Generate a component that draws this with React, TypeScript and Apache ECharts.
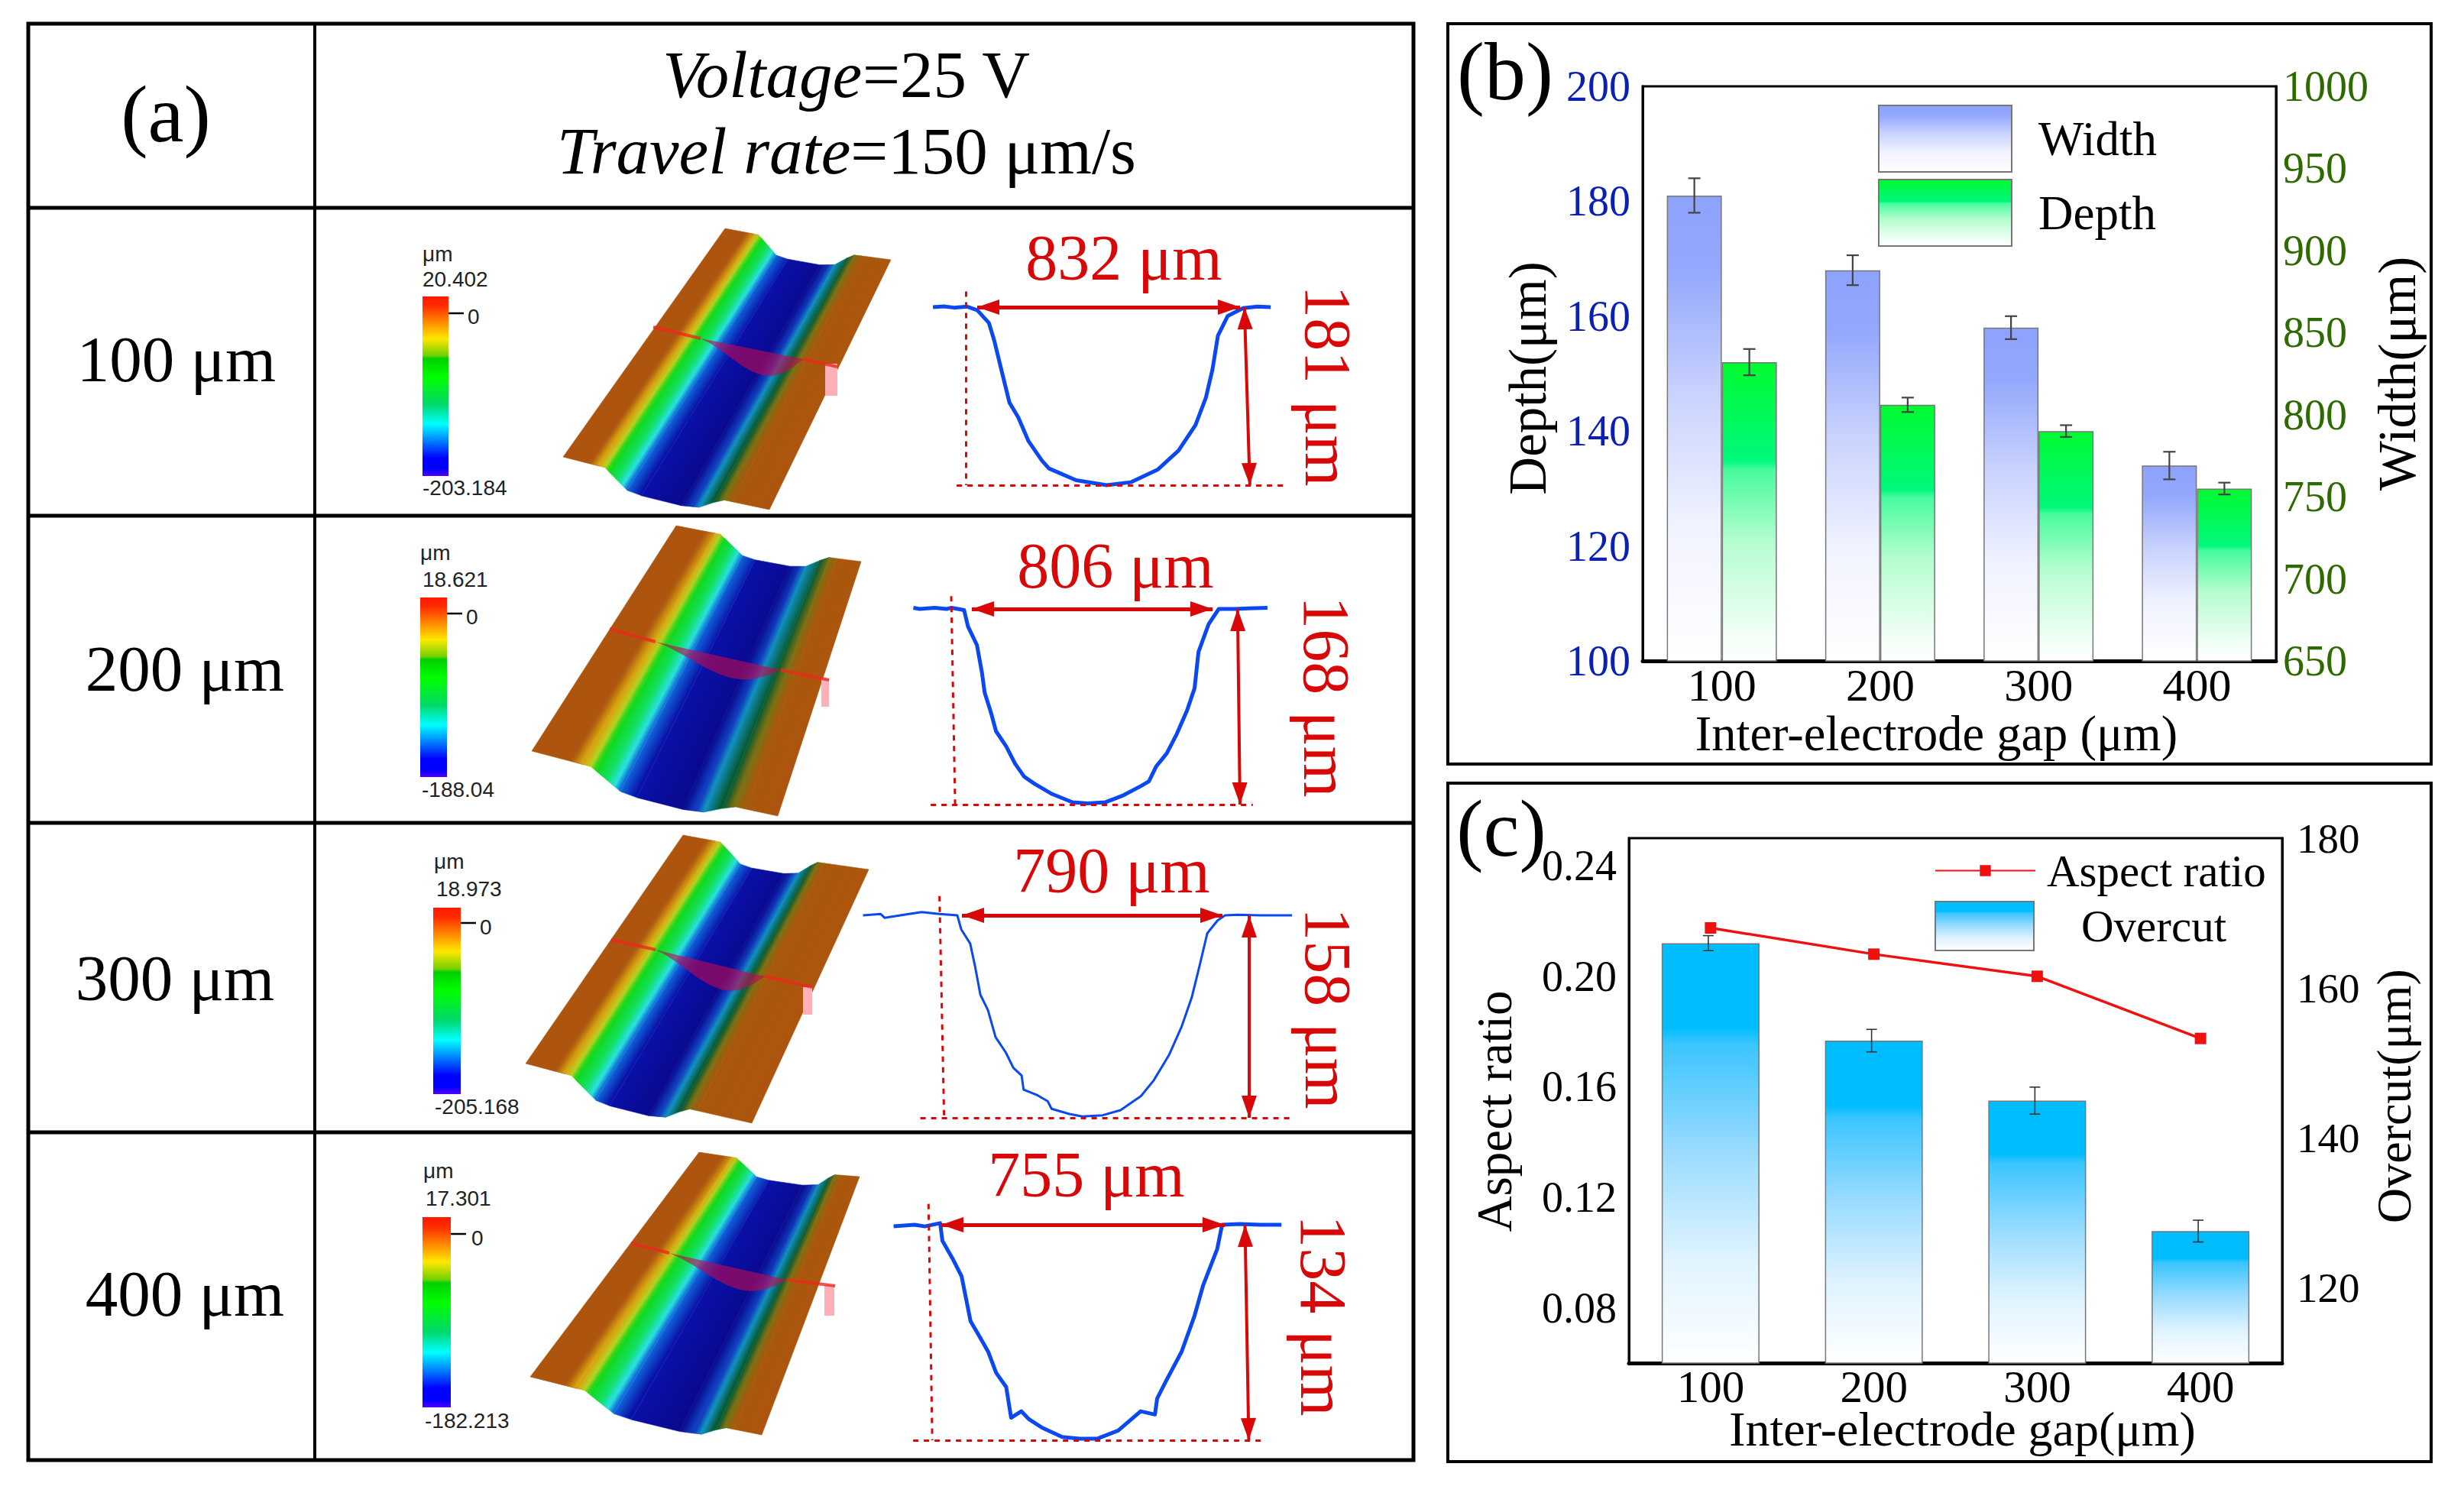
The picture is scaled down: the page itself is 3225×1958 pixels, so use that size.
import React, { useEffect, useRef } from "react";
import * as echarts from "echarts";

const SERIF = "Liberation Serif";
const SANS = "Liberation Sans";

// ---------- data ----------
const gaps = ["100", "200", "300", "400"];
const depthValues = [181, 168, 158, 134];
const depthErrors = [3, 2.6, 2, 2.4];
const widthValues = [832, 806, 790, 755];
const widthErrors = [8, 4.4, 3.6, 3.6];
const aspectRatio = [0.2175, 0.208, 0.2, 0.1775];
const overcutValues = [166, 153, 145, 127.6];
const overcutErrors = [1, 1.5, 1.8, 1.45];

const rowLabels = ["100 μm", "200 μm", "300 μm", "400 μm"];
const widthLabels = ["832 μm", "806 μm", "790 μm", "755 μm"];
const depthLabels = ["181 μm", "168 μm", "158 μm", "134 μm"];
const scaleTop = ["20.402", "18.621", "18.973", "17.301"];
const scaleBottom = ["-203.184", "-188.04", "-205.168", "-182.213"];

const profile100 = [[-140,0],[-105,0.8],[-74,-0.5],[-32,0.5],[0,-3],[37,-16],[54,-34],[76,-63],[102,-97],[130,-112],[162,-136],[205,-156],[227,-164],[313,-176],[410,-181],[486,-178],[572,-165],[637,-146],[691,-120],[724,-92],[745,-63],[762,-29],[793,-9],[842,-1],[887,0.5],[929,0]];
const profile200 = [[-196,1],[-175,0],[-124,1],[-85,0],[-68,1],[-26,-1],[-13,-15],[17,-31],[34,-55],[43,-72],[64,-89],[81,-105],[115,-118],[145,-133],[175,-144],[209,-150],[269,-159],[337,-166],[388,-167],[448,-166],[508,-160],[567,-152],[593,-148],[618,-135],[653,-124],[687,-107],[721,-87],[746,-68],[759,-37],[793,-13],[827,0],[883,0],[925,0.5],[990,1]];
const profile300 = [[-300,0],[-246,1],[-234,-2],[-161,1],[-122,2.5],[-68,1],[-14,0],[-2,-11],[25,-22],[40,-40],[56,-62],[79,-74],[102,-95],[133,-107],[156,-119],[181,-125],[187,-136],[226,-140],[260,-145],[272,-151],[326,-155],[365,-157],[427,-156],[481,-152],[543,-141],[581,-129],[628,-109],[666,-87],[697,-64],[720,-40],[744,-14],[775,-4],[798,0],[836,0.5],[906,0],[1001,0]];
const profile400 = [[-127,-1],[-71,0],[-44,-1],[-3,1],[3,-10],[30,-21],[54,-32],[78,-60],[98,-68],[125,-79],[146,-92],[173,-101],[186,-120],[213,-116],[234,-121],[267,-126],[322,-132],[369,-133],[416,-133],[471,-128],[531,-116],[569,-118],[575,-108],[599,-97],[640,-79],[674,-57],[697,-38],[735,-15],[748,0],[795,0.5],[850,0],[906,0]];
const profiles = [profile100, profile200, profile300, profile400];

// ---------- layout (pixels) ----------
const RED = "#d80808";
const profileBoxes = [
  { tipL: 1279, tipR: 1623, top: 402, bot: 635, xMin: -150, xMax: 990, ax1: 846, ax2: 863, d1: -36, d2: -36, dTop: 16, fl: -65, fr: 972, lw: 5 },
  { tipL: 1272, tipR: 1587, top: 797, bot: 1053, xMin: -200, xMax: 1000, ax1: 890, ax2: 898, d1: -69, d2: -56, dTop: 11, fl: -138, fr: 941, lw: 5 },
  { tipL: 1259, tipR: 1600, top: 1198, bot: 1463, xMin: -310, xMax: 1010, ax1: 871, ax2: 871, d1: -68, d2: -54, dTop: 15, fl: -126, fr: 1001, lw: 3 },
  { tipL: 1232, tipR: 1603, top: 1603, bot: 1885, xMin: -130, xMax: 915, ax1: 809, ax2: 819, d1: -34, d2: -24, dTop: 13, fl: -75, fr: 858, lw: 5 },
];
const widthLabelPos = [[1471, 337], [1460, 740], [1455, 1139], [1422, 1537]];
const depthLabelPos = [[1738, 505], [1736, 912], [1738, 1320], [1732, 1722]];
const rowLabelPos = [[231, 470], [242, 875], [229, 1280], [242, 1693]];
const scales = [
  { x: 553, w: 34, y0: 388, y1: 623, um: [553, 332], tp: [553, 365], zero: [612, 414], tick: 410, bt: [553, 638] },
  { x: 550, w: 35, y0: 782, y1: 1017, um: [550, 723], tp: [553, 758], zero: [610, 807], tick: 803, bt: [552, 1033] },
  { x: 567, w: 36, y0: 1188, y1: 1432, um: [568, 1127], tp: [571, 1163], zero: [628, 1213], tick: 1208, bt: [569, 1448] },
  { x: 553, w: 37, y0: 1593, y1: 1842, um: [554, 1532], tp: [557, 1568], zero: [617, 1620], tick: 1615, bt: [556, 1859] },
];
const surfaces = [
  { tl: [949, 299], tr: [1166, 340], bl: [737, 598], br: [1007, 667], a: 0.13, b: 0.31, c: 0.66, d: 0.82, dip: 28 },
  { tl: [885, 688], tr: [1127, 735], bl: [696, 983], br: [1018, 1068], a: 0.16, b: 0.36, c: 0.7, d: 0.87, dip: 28 },
  { tl: [894, 1093], tr: [1137, 1138], bl: [688, 1392], br: [984, 1470], a: 0.13, b: 0.31, c: 0.62, d: 0.76, dip: 30 },
  { tl: [915, 1508], tr: [1125, 1540], bl: [694, 1802], br: [997, 1878], a: 0.15, b: 0.36, c: 0.74, d: 0.88, dip: 26 },
];
const sections = [
  { a: [855, 428], s: [917, 443], e: [1051, 470], low: [1007, 493], z: [1096, 480], pink: [1080, 476, 16, 42] },
  { a: [798, 823], s: [858, 840], e: [1022, 877], low: [982, 893], z: [1085, 890], pink: [1075, 888, 10, 37] },
  { a: [800, 1230], s: [858, 1243], e: [1001, 1278], low: [955, 1298], z: [1063, 1292], pink: [1051, 1292, 12, 36] },
  { a: [826, 1627], s: [876, 1640], e: [1030, 1675], low: [990, 1693], z: [1093, 1683], pink: [1079, 1682, 13, 40] },
];
const BROWN = "#ad550e";

function surfaceGraphics(s: any, sec: any) {
  const { a, b, c, d } = s;
  const stops: [number, string][] = [
    [0, BROWN], [a, BROWN], [a + 0.25 * (b - a), "#d8a810"], [a + 0.4 * (b - a), "#b4d020"], [a + 0.5 * (b - a), "#12d818"],
    [a + 0.72 * (b - a), "#10e060"], [a + 0.88 * (b - a), "#28e0e0"], [b, "#1064d8"], [b + 0.2 * (c - b), "#0a10a8"],
    [b + 0.75 * (c - b), "#0a0a90"], [c - 0.03, "#1040c0"], [c, "#1090c0"], [c + 0.45 * (d - c), "#085a30"],
    [c + 0.75 * (d - c), "#807012"], [d, "#a8580c"], [1, BROWN],
  ];
  const dips = [[0, 0], [a + 0.4 * (b - a), 0], [b, s.dip * 0.8], [(b + c) / 2, s.dip], [c, s.dip * 0.73], [c + 0.7 * (d - c), s.dip * 0.1], [1, 0]];
  const dipAt = (t: number) => {
    for (let i = 1; i < dips.length; i++) {
      if (t <= dips[i][0]) {
        const p = dips[i - 1], q = dips[i];
        return p[1] + ((t - p[0]) / (q[0] - p[0])) * (q[1] - p[1]);
      }
    }
    return 0;
  };
  const mix = (p: number[], q: number[], t: number) => [p[0] + (q[0] - p[0]) * t, p[1] + (q[1] - p[1]) * t];
  const out: any[] = [];
  for (let i = 0; i + 1 < stops.length; i++) {
    const [t0, c0] = stops[i];
    const [t1, c1] = stops[i + 1];
    const a0 = mix(s.tl, s.tr, t0); a0[1] += dipAt(t0);
    const a1 = mix(s.tl, s.tr, t1); a1[1] += dipAt(t1);
    const b0 = mix(s.bl, s.br, t0); b0[1] += dipAt(t0);
    const b1 = mix(s.bl, s.br, t1); b1[1] += dipAt(t1);
    const m0 = mix(a0, b0, 0.5);
    const m1 = mix(a1, b1, 0.5);
    const ex = b0[0] - a0[0], ey = b0[1] - a0[1];
    const len = Math.hypot(ex, ey);
    const nx = -ey / len, ny = ex / len;
    const dot = (m1[0] - m0[0]) * nx + (m1[1] - m0[1]) * ny;
    const fill = new echarts.graphic.LinearGradient(m0[0], m0[1], m0[0] + nx * dot, m0[1] + ny * dot,
      [{ offset: 0, color: c0 }, { offset: 1, color: c1 }], true);
    out.push({ type: "polygon", silent: true, shape: { points: [a0, a1, b1, b0] }, style: { fill, stroke: c0, lineWidth: 0.6 } });
  }
  const pts: number[][] = [sec.s, sec.e];
  const chordAtLow = sec.s[1] + ((sec.low[0] - sec.s[0]) / (sec.e[0] - sec.s[0])) * (sec.e[1] - sec.s[1]);
  const h = sec.low[1] - chordAtLow;
  for (let k = 9; k >= 1; k--) {
    const u = k / 10;
    const m = mix(sec.s, sec.e, u);
    pts.push([m[0], m[1] + h * Math.sin(Math.PI * Math.pow(u, 1.4))]);
  }
  out.push({ type: "rect", silent: true, shape: { x: sec.pink[0], y: sec.pink[1], width: sec.pink[2], height: sec.pink[3] }, style: { fill: "#ffb0b8" } });
  out.push({ type: "polygon", silent: true, shape: { points: pts }, style: { fill: "rgba(190,10,80,0.62)" } });
  const redLine = { stroke: "rgba(235,40,30,0.8)", lineWidth: 4 };
  out.push({ type: "line", silent: true, shape: { x1: sec.a[0], y1: sec.a[1], x2: sec.s[0], y2: sec.s[1] }, style: redLine });
  out.push({ type: "line", silent: true, shape: { x1: sec.e[0], y1: sec.e[1], x2: sec.z[0], y2: sec.z[1] }, style: redLine });
  return out;
}

const T = (text: string, x: number, y: number, size: number, extra: any = {}, family = SERIF, rotation = 0) => ({
  type: "text", silent: true, x, y, rotation,
  style: { text, fontFamily: family, fontSize: size, fill: "#000", align: "center", verticalAlign: "middle", ...extra },
});
const L = (x1: number, y1: number, x2: number, y2: number, w: number) => ({
  type: "line", silent: true, shape: { x1, y1, x2, y2 }, style: { stroke: "#000", lineWidth: w },
});

const grad = (stops: [number, string][]) => new echarts.graphic.LinearGradient(0, 0, 0, 1, stops.map(([offset, color]) => ({ offset, color })));
const blueFill = () => grad([[0, "#8da2fb"], [0.15, "#93a7fc"], [0.42, "#c8d2fd"], [0.7, "#f0f2ff"], [1, "#ffffff"]]);
const greenFill = () => grad([[0, "#00fb30"], [0.33, "#00f87c"], [0.36, "#48fb9e"], [0.6, "#b5fdcf"], [0.9, "#f0fff5"], [1, "#ffffff"]]);
const cyanFill = () => grad([[0, "#00bdff"], [0.2, "#00bdff"], [0.24, "#3cc5ff"], [0.5, "#9bdcff"], [0.75, "#dff3ff"], [1, "#ffffff"]]);
const barGradient = () => grad([[0, "#ff1a00"], [0.05, "#ff2a00"], [0.15, "#ff9000"], [0.235, "#ffe800"], [0.33, "#70d000"], [0.345, "#00d000"], [0.45, "#00ff00"], [0.6, "#00d868"], [0.71, "#00ffff"], [0.9, "#0000ff"], [0.96, "#0000ff"], [1, "#5000ff"]]);

function errorSeries(name: string, xAxisIndex: number, yAxisIndex: number, vals: number[], errs: number[], dx: number, cap: number, lw: number, color: string) {
  return {
    type: "custom", name, xAxisIndex, yAxisIndex, clip: false, z: 5, silent: true,
    data: vals.map((v, i) => [i, v, errs[i]]),
    renderItem: (_: any, api: any) => {
      const c = api.value(0), v = api.value(1), e = api.value(2);
      const hi = api.coord([c, v + e]);
      const lo = api.coord([c, v - e]);
      const x = hi[0] + dx;
      const style = { stroke: color, lineWidth: lw, fill: "none" };
      return {
        type: "group",
        children: [
          { type: "line", shape: { x1: x, y1: hi[1], x2: x, y2: lo[1] }, style },
          { type: "line", shape: { x1: x - cap, y1: hi[1], x2: x + cap, y2: hi[1] }, style },
          { type: "line", shape: { x1: x - cap, y1: lo[1], x2: x + cap, y2: lo[1] }, style },
        ],
      };
    },
  };
}

function buildOption() {
  const hidden = { show: false };
  const grids: any[] = [
    { left: 2150, top: 113, width: 829, height: 752, show: true, borderColor: "#000", borderWidth: 3, backgroundColor: "transparent" },
    { left: 2132, top: 1097, width: 855, height: 687, show: true, borderColor: "#000", borderWidth: 3, backgroundColor: "transparent" },
  ];
  const xAxes: any[] = [
    { type: "category", gridIndex: 0, data: gaps, axisTick: hidden, name: "Inter-electrode gap (μm)", nameLocation: "middle", nameGap: 63,
      nameTextStyle: { fontFamily: SERIF, fontSize: 64.5, color: "#000", padding: [0, 60, 0, 0] },
      axisLine: { lineStyle: { color: "#000", width: 5 } }, axisLabel: { fontFamily: SERIF, fontSize: 60, color: "#000", margin: 2 } },
    { type: "category", gridIndex: 1, data: gaps, axisTick: hidden, name: "Inter-electrode gap(μm)", nameLocation: "middle", nameGap: 59, nameMoveOverlap: false,
      nameTextStyle: { fontFamily: SERIF, fontSize: 64, lineHeight: 54, color: "#000", padding: [0, 0, 0, 18] },
      axisLine: { lineStyle: { color: "#000", width: 5 } }, axisLabel: { fontFamily: SERIF, fontSize: 59, lineHeight: 48, color: "#000", margin: 7 } },
  ];
  const yBase = { type: "value", splitLine: hidden, axisTick: hidden, nameLocation: "middle" };
  const plain = (v: number) => String(v);
  const yAxes: any[] = [
    { ...yBase, gridIndex: 0, position: "left", min: 100, max: 200, interval: 20, name: "Depth(μm)", nameGap: 116,
      nameTextStyle: { fontFamily: SERIF, fontSize: 69, color: "#000", padding: [0, 12, 0, 0] },
      axisLine: { show: true, lineStyle: { color: "#000", width: 3 } }, axisLabel: { formatter: plain, fontFamily: SERIF, fontSize: 56, color: "#0a1fb4", margin: 16 } },
    { ...yBase, gridIndex: 0, position: "right", min: 650, max: 1000, interval: 50, name: "Width(μm)", nameGap: 94,
      nameTextStyle: { fontFamily: SERIF, fontSize: 69, color: "#000" },
      axisLine: { show: true, lineStyle: { color: "#000", width: 3 } }, axisLabel: { formatter: plain, fontFamily: SERIF, fontSize: 56, color: "#2f6a00", margin: 9 } },
    { ...yBase, gridIndex: 1, position: "left", min: 0.06, max: 0.25, name: "Aspect ratio", nameGap: 144,
      nameTextStyle: { fontFamily: SERIF, fontSize: 65, color: "#000", padding: [0, 28, 0, 0] },
      axisLine: { show: true, lineStyle: { color: "#000", width: 3 } },
      axisLabel: { customValues: [0.08, 0.12, 0.16, 0.2, 0.24], formatter: (v: number) => v.toFixed(2), fontFamily: SERIF, fontSize: 56, color: "#000", margin: 16 } },
    { ...yBase, gridIndex: 1, position: "right", min: 110, max: 180, name: "Overcut(μm)", nameGap: 114,
      nameTextStyle: { fontFamily: SERIF, fontSize: 64, color: "#000", padding: [0, 0, 0, 12] },
      axisLine: { show: true, lineStyle: { color: "#000", width: 3 } },
      axisLabel: { customValues: [120, 140, 160, 180], formatter: plain, fontFamily: SERIF, fontSize: 55, color: "#000", margin: 19 } },
  ];

  const barBorder = { borderColor: "#777", borderWidth: 1.5 };
  const series: any[] = [
    { type: "bar", name: "Width", xAxisIndex: 0, yAxisIndex: 0, data: depthValues, barWidth: 72, barGap: 0, itemStyle: { color: blueFill(), ...barBorder } },
    { type: "bar", name: "Depth", xAxisIndex: 0, yAxisIndex: 1, data: widthValues, barWidth: 72, barGap: 0, itemStyle: { color: greenFill(), ...barBorder } },
    errorSeries("Depth error", 0, 0, depthValues, depthErrors, -36, 8, 2.2, "#444"),
    errorSeries("Width error", 0, 1, widthValues, widthErrors, 36, 8, 2.2, "#444"),
    { type: "bar", name: "Overcut", xAxisIndex: 1, yAxisIndex: 3, data: overcutValues, barWidth: 128, itemStyle: { color: cyanFill(), ...barBorder } },
    errorSeries("Overcut error", 1, 3, overcutValues, overcutErrors, -3, 7, 1.6, "#333"),
    { type: "line", name: "Aspect ratio", xAxisIndex: 1, yAxisIndex: 2, data: aspectRatio, symbol: "rect", symbolSize: 15, z: 6,
      lineStyle: { color: "#f01010", width: 3.5 }, itemStyle: { color: "#f01010" } },
  ];

  profiles.forEach((data, i) => {
    const b = profileBoxes[i];
    const W = widthValues[i];
    const D = depthValues[i];
    const sx = (b.tipR - b.tipL) / W;
    const sy = (b.bot - b.top) / D;
    const yTop = 20;
    const gi = grids.length;
    grids.push({ left: b.tipL + b.xMin * sx, width: (b.xMax - b.xMin) * sx, top: b.top - yTop * sy, height: b.bot - b.top + yTop * sy });
    xAxes.push({ type: "value", gridIndex: gi, min: b.xMin, max: b.xMax, show: false });
    yAxes.push({ type: "value", gridIndex: gi, min: -D, max: yTop, show: false });
    const arrow = { symbol: "triangle", symbolSize: [20, 29], symbolOffset: [0, 14.5] };
    const dash = { type: [7, 7], width: 3, color: RED };
    series.push({
      type: "line", name: `Profile ${gaps[i]}`, xAxisIndex: gi, yAxisIndex: yAxes.length - 1, data, showSymbol: false, clip: false, silent: true, z: 4,
      lineStyle: { color: "#0b48f0", width: b.lw, join: "round" },
      markLine: {
        silent: true, animation: false, symbol: "none", label: { show: false }, precision: 3,
        data: [
          [{ coord: [0, 0], ...arrow, lineStyle: { color: RED, width: 5, type: "solid" } }, { coord: [W, 0], ...arrow }],
          [{ coord: [b.ax1, 0], ...arrow, lineStyle: { color: RED, width: 4, type: "solid" } }, { coord: [b.ax2, -D], ...arrow }],
          [{ coord: [b.d1, b.dTop], lineStyle: dash }, { coord: [b.d2, -D] }],
          [{ coord: [b.fl, -D], lineStyle: dash }, { coord: [b.fr, -D] }],
        ],
      },
    });
  });

  const graphicEls: any[] = [
    { type: "rect", silent: true, shape: { x: 1895, y: 31, width: 1287, height: 969 }, style: { fill: "none", stroke: "#000", lineWidth: 4 } },
    { type: "rect", silent: true, shape: { x: 1895, y: 1025, width: 1287, height: 888 }, style: { fill: "none", stroke: "#000", lineWidth: 4 } },
    { type: "rect", silent: true, shape: { x: 37, y: 31, width: 1813, height: 1880 }, style: { fill: "none", stroke: "#000", lineWidth: 5 } },
    L(412, 31, 412, 1911, 4),
    L(37, 272, 1850, 272, 5), L(37, 675, 1850, 675, 5), L(37, 1077, 1850, 1077, 5), L(37, 1482, 1850, 1482, 5),
    T("(a)", 217, 149, 106),
    T("(b)", 1970, 93, 108),
    T("(c)", 1965, 1084, 106),
    {
      type: "text", silent: true, x: 1108, y: 97,
      style: { text: "{i|Voltage}{r|=25 V}", align: "center", verticalAlign: "middle", fill: "#000", fontFamily: SERIF, fontSize: 87,
        rich: { i: { fontStyle: "italic", fontFamily: SERIF, fontSize: 87 }, r: { fontFamily: SERIF, fontSize: 87 } } },
    },
    {
      type: "text", silent: true, x: 1108, y: 197,
      style: { text: "{i|Travel rate}{r|=150 μm/s}", align: "center", verticalAlign: "middle", fill: "#000", fontFamily: SERIF, fontSize: 87,
        rich: { i: { fontStyle: "italic", fontFamily: SERIF, fontSize: 87 }, r: { fontFamily: SERIF, fontSize: 87 } } },
    },
  ];
  rowLabels.forEach((t, i) => graphicEls.push(T(t, rowLabelPos[i][0], rowLabelPos[i][1], 85)));
  surfaces.forEach((s, i) => graphicEls.push(...surfaceGraphics(s, sections[i])));
  scales.forEach((b, i) => {
    graphicEls.push({ type: "rect", silent: true, shape: { x: b.x, y: b.y0, width: b.w, height: b.y1 - b.y0 }, style: { fill: barGradient() } });
    graphicEls.push(L(b.x + b.w, b.tick, b.x + b.w + 20, b.tick, 2.5));
    const left = { align: "left", fill: "#222" };
    graphicEls.push(T("μm", b.um[0], b.um[1], 28, left, SANS));
    graphicEls.push(T(scaleTop[i], b.tp[0], b.tp[1], 28, left, SANS));
    graphicEls.push(T("0", b.zero[0], b.zero[1], 28, left, SANS));
    graphicEls.push(T(scaleBottom[i], b.bt[0], b.bt[1], 28, left, SANS));
  });
  widthLabels.forEach((t, i) => graphicEls.push(T(t, widthLabelPos[i][0], widthLabelPos[i][1], 84, { fill: RED })));
  depthLabels.forEach((t, i) => graphicEls.push(T(t, depthLabelPos[i][0], depthLabelPos[i][1], 86, { fill: RED }, SERIF, -Math.PI / 2)));

  return {
    animation: false,
    backgroundColor: "#fff",
    grid: grids,
    xAxis: xAxes,
    yAxis: yAxes,
    legend: [
      { data: [{ name: "Width", icon: "rect" }, { name: "Depth", icon: "rect" }], orient: "vertical", left: 2458, top: 137, padding: 0, itemWidth: 174, itemHeight: 87, itemGap: 8,
        textStyle: { fontFamily: SERIF, fontSize: 63, color: "#000", padding: [6, 0, 0, 30] } },
      { data: ["Aspect ratio"], left: 2532, top: 1110, padding: 0, itemWidth: 131, itemHeight: 18,
        textStyle: { fontFamily: SERIF, fontSize: 59, color: "#000", padding: [0, 0, 0, 10] } },
      { data: [{ name: "Overcut", icon: "rect" }], left: 2532, top: 1179, padding: 0, itemWidth: 129, itemHeight: 64,
        textStyle: { fontFamily: SERIF, fontSize: 59, color: "#000", padding: [0, 0, 0, 57] } },
    ],
    series,
    graphic: { elements: graphicEls },
  };
}

export default function App() {
  const ref = useRef<HTMLDivElement>(null);
  useEffect(() => {
    const chart = echarts.init(ref.current!, null, { renderer: "svg", width: 3225, height: 1958 });
    chart.setOption(buildOption() as any);
    return () => chart.dispose();
  }, []);
  return <div ref={ref} style={{ position: "fixed", left: 0, top: 0, width: 3225, height: 1958, background: "#fff" }} />;
}
